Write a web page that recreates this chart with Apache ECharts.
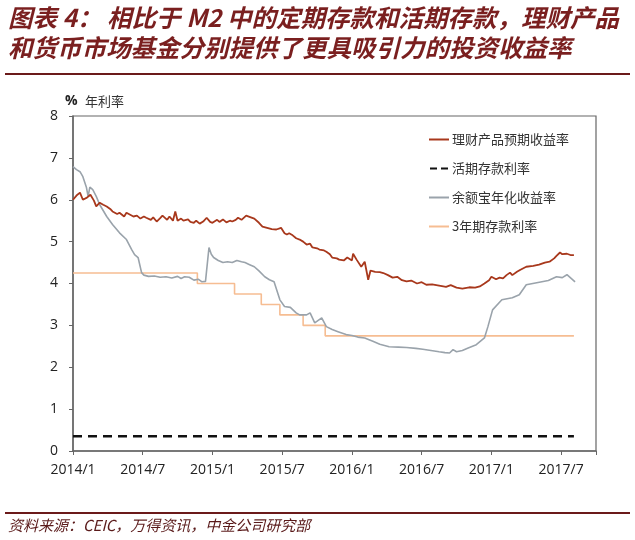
<!DOCTYPE html>
<html><head><meta charset="utf-8">
<script src="https://cdn.jsdelivr.net/npm/echarts@6/dist/echarts.min.js"></script>
<style>html,body{margin:0;padding:0;background:#fff;}#c{width:635px;height:540px;}</style>
</head><body><div id="c"></div>
<script>
// x = months since 2014/1
const xTickLabels = ['2014/1','2014/7','2015/1','2015/7','2016/1','2016/7','2017/1','2017/7'];
const seriesNames = ['理财产品预期收益率','活期存款利率','余额宝年化收益率','3年期存款利率'];

const wmpYield = [[0,6.0],[0.3,6.1],[0.6,6.17],[0.85,6.0],[1.2,6.05],[1.5,6.12],[1.8,5.98],[2.0,5.84],[2.3,5.93],[2.6,5.88],[2.9,5.84],[3.2,5.78],[3.4,5.72],[3.8,5.66],[4.0,5.69],[4.4,5.6],[4.6,5.69],[5.0,5.63],[5.2,5.6],[5.5,5.62],[5.8,5.55],[6.1,5.6],[6.3,5.57],[6.7,5.52],[6.9,5.58],[7.2,5.48],[7.5,5.56],[7.7,5.62],[8.1,5.52],[8.3,5.6],[8.6,5.5],[8.8,5.72],[9.0,5.5],[9.3,5.55],[9.5,5.5],[9.9,5.53],[10.1,5.47],[10.4,5.45],[10.6,5.5],[10.9,5.43],[11.2,5.48],[11.5,5.57],[11.8,5.47],[12.0,5.45],[12.4,5.52],[12.6,5.47],[12.9,5.53],[13.2,5.46],[13.5,5.5],[13.7,5.48],[14.0,5.52],[14.2,5.57],[14.5,5.52],[14.9,5.62],[15.3,5.58],[15.6,5.55],[16.0,5.45],[16.3,5.36],[16.7,5.33],[17.1,5.3],[17.5,5.29],[17.9,5.33],[18.2,5.2],[18.4,5.17],[18.6,5.2],[18.9,5.15],[19.2,5.08],[19.5,5.05],[19.8,5.0],[20.1,4.93],[20.4,4.95],[20.6,4.86],[21.0,4.84],[21.2,4.81],[21.6,4.79],[21.8,4.76],[22.1,4.7],[22.3,4.62],[22.7,4.6],[22.9,4.57],[23.3,4.55],[23.6,4.62],[24.0,4.55],[24.1,4.71],[24.4,4.57],[24.8,4.4],[25.1,4.52],[25.4,4.09],[25.6,4.31],[26.0,4.28],[26.4,4.27],[26.7,4.25],[27.1,4.2],[27.5,4.14],[27.9,4.16],[28.3,4.08],[28.7,4.05],[29.1,4.07],[29.6,4.0],[30.0,4.03],[30.4,3.97],[30.9,3.98],[31.5,3.95],[32.1,3.92],[32.5,3.96],[33.0,3.9],[33.5,3.88],[34.1,3.91],[34.6,3.9],[35.0,3.93],[35.4,4.0],[35.8,4.08],[36.0,4.16],[36.4,4.1],[36.7,4.14],[37.0,4.12],[37.3,4.2],[37.6,4.26],[37.8,4.2],[38.2,4.28],[38.5,4.33],[39.0,4.4],[39.6,4.42],[40.1,4.45],[40.6,4.5],[41.0,4.52],[41.4,4.6],[41.6,4.66],[41.9,4.74],[42.1,4.7],[42.5,4.71],[42.8,4.68],[43.1,4.68]];

const demandRate = [[0,0.35],[43.1,0.35]];

const yuebaoYield = [[0,6.79],[0.3,6.72],[0.6,6.67],[0.85,6.55],[1.15,6.3],[1.3,6.08],[1.45,6.3],[1.7,6.24],[2.0,6.08],[2.3,5.88],[2.9,5.6],[3.4,5.41],[4.0,5.21],[4.6,5.05],[5.05,4.81],[5.3,4.69],[5.6,4.62],[5.9,4.26],[6.1,4.2],[6.5,4.17],[7.0,4.18],[7.5,4.15],[8.0,4.16],[8.5,4.13],[9.0,4.17],[9.3,4.12],[9.6,4.16],[10.0,4.15],[10.4,4.08],[10.8,4.1],[11.1,4.04],[11.4,4.05],[11.55,4.04],[11.7,4.86],[11.9,4.7],[12.1,4.62],[12.5,4.55],[12.9,4.5],[13.3,4.52],[13.7,4.5],[14.1,4.55],[14.5,4.52],[14.8,4.5],[15.2,4.45],[15.6,4.4],[16.0,4.3],[16.5,4.16],[16.9,4.09],[17.3,4.04],[17.8,3.61],[18.2,3.45],[18.7,3.43],[19.2,3.3],[19.5,3.25],[20.1,3.25],[20.4,3.3],[20.8,3.06],[21.4,3.18],[21.8,2.97],[22.3,2.9],[22.8,2.85],[23.5,2.78],[24.0,2.76],[24.5,2.72],[25.1,2.7],[25.8,2.62],[26.4,2.55],[27.2,2.49],[28.0,2.48],[28.7,2.47],[29.5,2.45],[30.1,2.43],[30.8,2.4],[31.5,2.37],[32.0,2.35],[32.4,2.34],[32.7,2.42],[33.0,2.37],[33.5,2.4],[34.0,2.46],[34.7,2.54],[35.4,2.7],[35.7,2.97],[36.1,3.37],[36.9,3.61],[37.8,3.66],[38.4,3.73],[39.0,3.97],[39.9,4.02],[40.9,4.07],[41.6,4.16],[42.1,4.14],[42.5,4.21],[43.2,4.04]];

const deposit3y = [[0,4.25],[10.7,4.0],[13.9,3.75],[16.2,3.5],[17.8,3.25],[19.8,3.0],[21.7,2.75],[43.1,2.75]];

const solidIcon = 'path://M0 0H20V2H0Z';
const dashIcon = 'path://M0 0H7V2H0Z M11 0H18V2H11Z';

const chart = echarts.init(document.getElementById('c'), null, {renderer:'canvas'});
const axisFont = {fontFamily:'Open Sans', fontSize:14, color:'#222'};
chart.setOption({
  animation:false,
  backgroundColor:'#fff',
  grid:{left:73, right:39, top:116, bottom:89, show:true, borderColor:'#666', borderWidth:1.2, containLabel:false},
  xAxis:{type:'value', min:0, max:45, interval:6,
    axisLine:{show:true, onZero:false, lineStyle:{color:'#666', width:1.5}},
    axisTick:{show:true, inside:false, length:4, lineStyle:{color:'#666'}},
    splitLine:{show:false},
    axisLabel:Object.assign({margin:12, formatter:function(v){const i=v/6; return Number.isInteger(i)&&xTickLabels[i]?xTickLabels[i]:'';}}, axisFont)},
  yAxis:{type:'value', min:0, max:8, interval:1,
    axisLine:{show:true, lineStyle:{color:'#666', width:1.5}},
    axisTick:{show:true, length:4, lineStyle:{color:'#666'}},
    splitLine:{show:false},
    axisLabel:Object.assign({margin:15}, axisFont)},
  legend:{orient:'vertical', left:424, top:128, itemWidth:20, itemHeight:2, itemGap:16,
    textStyle:{fontFamily:'Noto Sans CJK SC', fontSize:13, color:'#333', padding:[0,0,0,-2]},
    data:[
      {name:seriesNames[0], icon:solidIcon},
      {name:seriesNames[1], icon:dashIcon},
      {name:seriesNames[2], icon:solidIcon},
      {name:seriesNames[3], icon:solidIcon}
    ]},
  graphic:[
    {type:'text', left:8, top:5, style:{text:'图表 4： 相比于 M2 中的定期存款和活期存款，理财产品', fontFamily:'Noto Sans CJK SC', fontSize:24.5, fontStyle:'italic', fontWeight:'bold', fill:'#7a1f1f'}},
    {type:'text', left:8, top:35, style:{text:'和货币市场基金分别提供了更具吸引力的投资收益率', fontFamily:'Noto Sans CJK SC', fontSize:24.5, fontStyle:'italic', fontWeight:'bold', fill:'#7a1f1f'}},
    {type:'rect', shape:{x:5, y:73, width:625, height:2}, style:{fill:'#6b1a1a'}},
    {type:'rect', shape:{x:5, y:512, width:625, height:2}, style:{fill:'#6b1a1a'}},
    {type:'text', left:8, top:518, style:{text:'资料来源：CEIC，万得资讯，中金公司研究部', fontFamily:'Noto Sans CJK SC', fontSize:15, fontStyle:'italic', fill:'#5a1a1a'}},
    {type:'text', left:65, top:94, style:{text:'%', fontFamily:'Open Sans', fontSize:14, fontWeight:'bold', fill:'#222'}},
    {type:'text', left:85, top:95, style:{text:'年利率', fontFamily:'Noto Sans CJK SC', fontSize:13, fill:'#333'}}
  ],
  series:[
    {name:seriesNames[0], type:'line', data:wmpYield, showSymbol:false, symbol:'none', lineStyle:{color:'#a8381c', width:1.8}, itemStyle:{color:'#a8381c'}, z:5},
    {name:seriesNames[1], type:'line', data:demandRate, showSymbol:false, symbol:'none', lineStyle:{color:'#111', width:2.5, type:[9,6]}, itemStyle:{color:'#111'}, z:4},
    {name:seriesNames[2], type:'line', data:yuebaoYield, showSymbol:false, symbol:'none', lineStyle:{color:'#9aa3ab', width:1.6}, itemStyle:{color:'#9aa3ab'}, z:3},
    {name:seriesNames[3], type:'line', data:deposit3y, step:'end', showSymbol:false, symbol:'none', lineStyle:{color:'#f6bd92', width:1.6}, itemStyle:{color:'#f6bd92'}, z:2}
  ]
});
</script></body></html>
